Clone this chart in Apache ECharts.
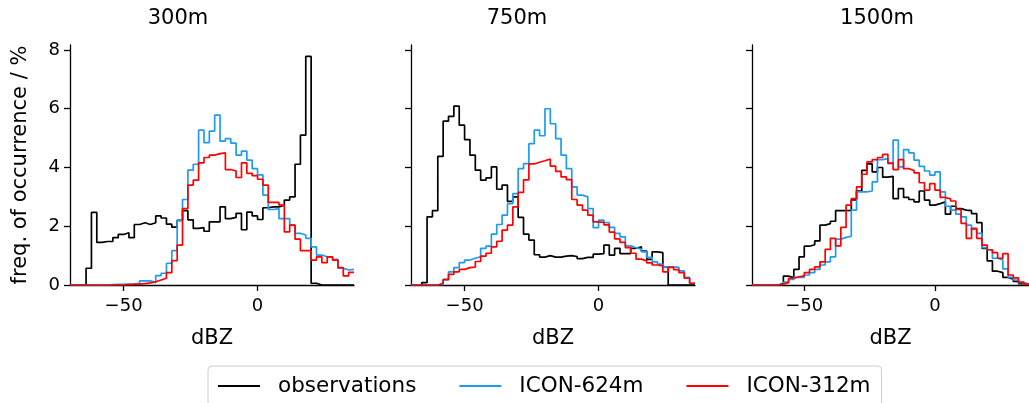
<!DOCTYPE html>
<html>
<head>
<meta charset="utf-8">
<script src="https://cdn.jsdelivr.net/npm/echarts@6/dist/echarts.min.js"></script>
<style>html,body{margin:0;padding:0;background:#fff;}#c{width:1029px;height:403px;}</style>
</head>
<body>
<div id="c"></div>
<script>
// bin edges (dBZ), 2-dBZ bins
var binEdges = [-70,-68,-66,-64,-62,-60,-58,-56,-54,-52,-50,-48,-46,-44,-42,-40,-38,-36,-34,-32,-30,-28,-26,-24,-22,-20,-18,-16,-14,-12,-10,-8,-6,-4,-2,0,2,4,6,8,10,12,14,16,18,20,22,24,26,28,30,32,34,36];
var panelTitles = ['300m', '750m', '1500m'];
var seriesNames = ['observations', 'ICON-624m', 'ICON-312m'];
var xTicks = [-50, 0];
var yTicks = [0, 2, 4, 6, 8];

// 300m
var obs300 = [0,0,0,0.57,2.47,1.45,1.48,1.48,1.61,1.72,1.78,1.61,2.06,2.12,2.06,2.12,2.35,2.28,2.07,1.97,2.2,2.53,2.22,1.93,1.95,1.83,2.15,2.15,2.66,2.26,2.3,2.44,1.88,2.48,2.35,2.23,2.63,2.66,2.66,2.72,2.89,3.0,4.11,5.1,7.78,0.06,0,0,0,0,0,0,0];
var icon624_300 = [0,0,0,0,0,0,0,0.01,0.02,0.02,0.03,0.04,0.06,0.14,0.14,0.08,0.32,0.4,0.74,1.17,2.2,2.91,3.91,4.11,5.27,4.85,5.24,5.78,4.9,4.98,4.83,4.42,4.56,4.25,3.96,3.75,3.06,2.57,2.6,2.26,2.26,2.04,1.76,1.7,1.59,1.3,1.02,0.96,0.96,0.87,0.57,0.51,0.53];
var icon312_300 = [0,0,0,0,0,0,0,0,0,0,0.01,0.02,0.03,0.05,0.07,0.11,0.17,0.23,0.42,0.83,1.36,2.6,3.4,3.57,4.16,4.34,4.42,4.47,4.5,3.93,3.88,3.66,4.16,3.8,3.72,3.6,3.4,2.81,2.81,2.72,1.81,2.04,1.56,1.17,1.17,0.85,0.96,0.76,0.96,0.85,0.59,0.31,0.43];

// 750m
var obs750 = [0,0,0.08,2.32,2.53,4.38,5.58,5.74,6.09,5.44,4.95,4.42,3.91,3.57,3.65,4.02,3.26,3.4,2.85,3.0,2.3,1.73,1.53,1.03,0.95,1.0,0.95,0.95,0.98,1.0,0.97,0.9,0.94,0.94,1.05,1.07,1.36,1.02,1.25,1.07,1.07,1.25,1.3,1.15,0.87,1.13,1.1,0.62,0,0,0,0,0];
var icon624_750 = [0,0,0,0,0,0.02,0.17,0.45,0.59,0.76,0.85,0.91,0.96,1.25,1.32,1.73,2.06,2.38,2.77,3.11,3.96,4.13,4.81,5.27,5.08,6.0,5.49,4.98,4.42,3.96,3.34,3.06,3.0,2.6,1.95,2.21,2.12,1.96,1.76,1.64,1.33,1.27,1.22,1.13,0.94,0.79,0.71,0.62,0.62,0.6,0.48,0.26,0.06];
var icon312_750 = [0,0,0,0,0,0.06,0.19,0.36,0.45,0.53,0.59,0.61,0.8,0.98,1.08,1.3,1.49,1.87,2.04,2.66,3.15,3.58,4.12,4.18,4.23,4.29,4.05,3.87,3.68,3.59,2.91,2.72,2.55,2.38,2.15,2.13,2.05,1.8,1.57,1.45,1.27,1.08,0.88,0.82,0.75,0.68,0.65,0.45,0.6,0.52,0.42,0.23,0.06];

// 1500m
var obs1500 = [0,0,0,0,0,0.05,0.3,0.25,0.53,0.96,1.32,1.37,1.5,2.04,2.09,2.17,2.53,2.53,2.54,2.9,3.2,3.9,4.12,3.85,4.0,3.67,3.7,2.94,3.28,2.98,2.91,2.83,3.2,2.89,2.72,2.77,2.83,2.41,2.68,2.6,2.55,2.53,2.43,2.12,1.25,0.82,0.47,0.42,0.26,0.2,0.12,0.05,0.02];
var icon624_1500 = [0,0,0,0,0,0.03,0.1,0.19,0.26,0.26,0.34,0.42,0.53,0.68,0.79,0.96,1.56,1.62,1.66,2.55,3.17,3.17,3.2,3.51,4.27,4.3,4.13,4.93,4.02,4.61,4.5,4.25,4.04,3.88,3.74,3.85,3.17,2.68,2.55,2.41,2.32,2.04,1.89,1.76,1.27,1.2,0.91,0.85,0.55,0.26,0.17,0.08,0.04];
var icon312_1500 = [0,0,0,0,0,0.03,0.08,0.23,0.28,0.31,0.42,0.53,0.62,0.79,1.21,1.59,1.33,1.96,2.72,2.94,3.34,3.77,4.19,4.27,4.34,4.45,4.15,3.93,4.27,3.96,3.9,3.82,3.48,3.23,3.45,3.23,2.98,2.93,2.86,2.57,2.1,1.59,1.93,1.59,1.36,1.2,1.1,0.91,1.07,0.34,0.24,0.1,0.03];

var panelData = [
  [obs300, icon624_300, icon312_300],
  [obs750, icon624_750, icon312_750],
  [obs1500, icon624_1500, icon312_1500]
];
var colors = ['#000000', '#1E9BF0', '#FF0000'];

function stepData(vals) {
  return binEdges.map(function (e, i) {
    return [e, vals[Math.min(i, vals.length - 1)]];
  });
}
function fmt(v) { return v < 0 ? '\u2212' + Math.abs(v) : String(v); }

var FONT = 'DejaVu Sans';
var gridLefts = [70, 411, 752];
var titleCenters = [178, 517, 877];

var grids = [], xAxes = [], yAxes = [], series = [], titles = [];
for (var p = 0; p < 3; p++) {
  grids.push({ left: gridLefts[p], top: 45, width: 284, height: 240 });
  xAxes.push({
    type: 'value', gridIndex: p, min: -70, max: 36,
    axisLine: { show: true, onZero: false, lineStyle: { color: '#000', width: 1.3 } },
    axisTick: { show: true, inside: false, length: 6, customValues: xTicks, lineStyle: { color: '#000', width: 1.3 } },
    axisLabel: { show: true, customValues: xTicks, formatter: fmt, color: '#000', fontFamily: FONT, fontSize: 18, margin: 12 },
    splitLine: { show: false },
    name: 'dBZ', nameLocation: 'middle', nameGap: 43,
    nameTextStyle: { color: '#000', fontFamily: FONT, fontSize: 21 }
  });
  yAxes.push({
    type: 'value', gridIndex: p, min: 0, max: 8.17,
    axisLine: { show: true, onZero: false, lineStyle: { color: '#000', width: 1.3 } },
    axisTick: { show: true, inside: false, length: 6, customValues: yTicks, lineStyle: { color: '#000', width: 1.3 } },
    axisLabel: { show: p === 0, customValues: yTicks, color: '#000', fontFamily: FONT, fontSize: 18, margin: 10 },
    splitLine: { show: false },
    name: p === 0 ? 'freq. of occurrence / %' : '',
    nameLocation: 'middle', nameGap: 39, nameRotate: 90,
    nameTextStyle: { color: '#000', fontFamily: FONT, fontSize: 21 }
  });
  titles.push({
    text: panelTitles[p], left: titleCenters[p], top: 8, textAlign: 'center', padding: 0,
    textStyle: { color: '#000', fontFamily: FONT, fontSize: 21, fontWeight: 'normal' }
  });
  for (var s = 0; s < 3; s++) {
    series.push({
      type: 'line', name: seriesNames[s], xAxisIndex: p, yAxisIndex: p,
      step: 'end', showSymbol: false, symbol: 'none', animation: false,
      data: stepData(panelData[p][s]),
      lineStyle: { color: colors[s], width: 1.7 },
      itemStyle: { color: colors[s] },
      z: 2 + s
    });
  }
}

var chart = echarts.init(document.getElementById('c'), null, { renderer: 'canvas' });
chart.setOption({
  backgroundColor: '#fff',
  animation: false,
  title: titles,
  grid: grids,
  xAxis: xAxes,
  yAxis: yAxes,
  legend: {
    data: seriesNames, left: 208, top: 366, orient: 'horizontal',
    icon: 'rect', itemWidth: 42, itemHeight: 2, itemGap: 43,
    padding: [9, 11, 9, 10],
    borderColor: '#cccccc', borderWidth: 1, borderRadius: 4, backgroundColor: '#fff',
    textStyle: { color: '#000', fontFamily: FONT, fontSize: 21.5, padding: [0, 0, 0, 13] }
  },
  series: series
});
</script>
</body>
</html>
